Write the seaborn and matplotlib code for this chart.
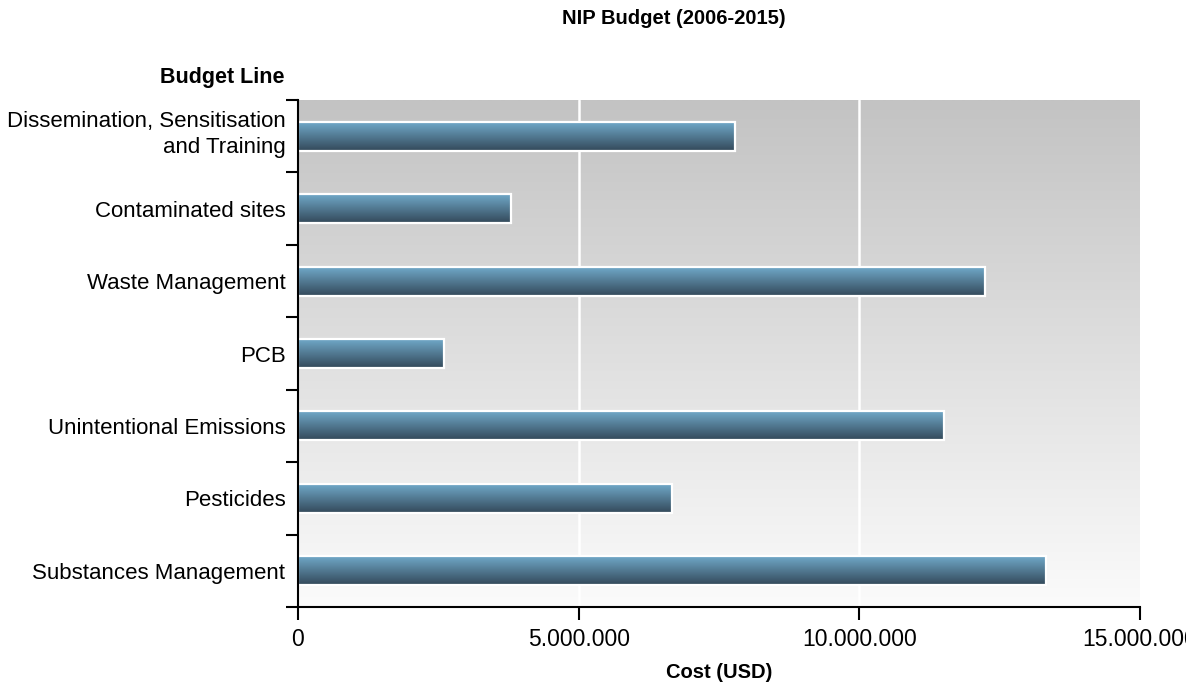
import numpy as np
import pandas as pd
import seaborn as sns
import matplotlib
matplotlib.use("Agg")
import matplotlib.pyplot as plt
from matplotlib.colors import LinearSegmentedColormap, to_rgb
from matplotlib.ticker import FuncFormatter, FixedLocator
from matplotlib.transforms import ScaledTranslation

categories = ["Dissemination, Sensitisation\nand Training", "Contaminated sites",
              "Waste Management", "PCB", "Unintentional Emissions",
              "Pesticides", "Substances Management"]
costs = [7780000, 3790000, 12240000, 2600000, 11510000, 6660000, 13330000]
x_ticks = [0, 5000000, 10000000, 15000000]
title = "NIP Budget (2006-2015)"
x_label = "Cost (USD)"
y_label = "Budget Line"

sns.set_theme(style="white")
plt.rcParams["font.family"] = ["Liberation Sans", "DejaVu Sans"]
plt.rcParams["text.color"] = "black"
plt.rcParams["axes.labelcolor"] = "black"

df = pd.DataFrame({"Budget Line": categories, "Cost": costs})

fig = plt.figure(figsize=(11.86, 6.86), dpi=100)
ax = fig.add_axes([298/1186, 1-607/686, (1140-298)/1186, (607-100)/686])

sns.barplot(data=df, x="Cost", y="Budget Line", orient="h", width=0.4,
            color="#5a8bab", ax=ax, zorder=1)

ax.set_xlim(0, 15000000)
ylim = (len(categories) - 0.5, -0.5)
ax.set_ylim(*ylim)

# background gradient
bg = np.linspace(0, 1, 256).reshape(-1, 1)
bg_cmap = LinearSegmentedColormap.from_list("bg", ["#fbfbfb", "#c3c3c3"])
ax.imshow(bg, cmap=bg_cmap, origin="lower", extent=(0, 1, 0, 1),
          transform=ax.transAxes, aspect="auto", zorder=0)

# bar gradients
top = np.array(to_rgb("#70a8c8"))
bot = np.array(to_rgb("#33495a"))
grad = np.linspace(0, 1, 64).reshape(-1, 1, 1)
grad_img = top * (1 - grad) + bot * grad
for p in list(ax.patches):
    x0, y0, w, h = p.get_x(), p.get_y(), p.get_width(), p.get_height()
    ax.imshow(grad_img, origin="upper", extent=(x0, x0 + w, y0 + h, y0),
              aspect="auto", zorder=1.5, interpolation="bilinear")
    p.set_facecolor("none")
    p.set_edgecolor("white")
    p.set_linewidth(1.6)
    p.set_zorder(2)

ax.set_xlim(0, 15000000)
ax.set_ylim(*ylim)

# grid
for xv in x_ticks[1:-1]:
    ax.axvline(xv, color="white", lw=1.8, zorder=0.8)

# spines
for s in ["top", "right"]:
    ax.spines[s].set_visible(False)
for s in ["left", "bottom"]:
    ax.spines[s].set_color("black")
    ax.spines[s].set_linewidth(1.5)

ax.xaxis.set_major_locator(FixedLocator(x_ticks))
ax.xaxis.set_major_formatter(FuncFormatter(lambda v, _: f"{int(v):,}".replace(",", ".")))
ax.tick_params(axis="x", which="major", direction="out", length=9, width=1.5,
               color="black", labelsize=16.5, labelcolor="black", pad=6, bottom=True)

ax.yaxis.set_minor_locator(FixedLocator(np.arange(-0.5, len(categories), 1.0)))
ax.tick_params(axis="y", which="major", length=0, labelsize=16, labelcolor="black", pad=9)
ax.tick_params(axis="y", which="minor", direction="out", length=9, width=1.5,
               color="black", left=True)
for lbl in ax.get_yticklabels():
    lbl.set_horizontalalignment("right")
    lbl.set_multialignment("right")
    lbl.set_linespacing(1.35)
    if "\n" in lbl.get_text():
        lbl.set_transform(lbl.get_transform() + ScaledTranslation(0, 5/72, fig.dpi_scale_trans))

ax.set_xlabel("")
ax.set_ylabel("")
fig.text(719/1186, 1-672/686, x_label, ha="center", va="center", fontsize=14.5, fontweight="bold")
fig.text(285/1186, 1-78/686, y_label, ha="right", va="center", fontsize=15.5, fontweight="bold")
fig.text(674/1186, 1-19/686, title, ha="center", va="center", fontsize=14.5, fontweight="bold")

fig.savefig("out.png", dpi=100)
